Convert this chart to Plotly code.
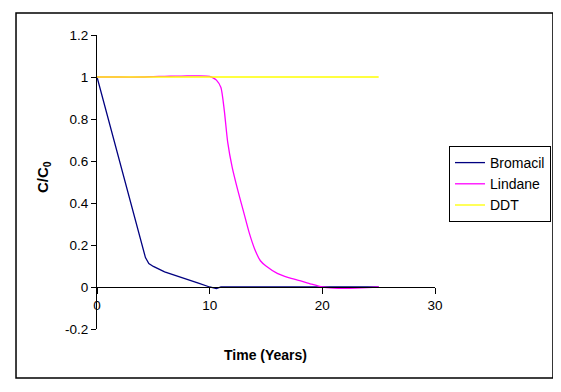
import plotly.graph_objects as go

# Data
bromacil_t = [0, 1, 2, 3, 4, 4.3, 4.6, 5, 6, 7, 8, 9, 10, 10.6, 11, 12, 14, 16, 18, 20, 22, 24, 25]
bromacil_c = [1.0, 0.8, 0.6, 0.4, 0.2, 0.14, 0.112, 0.098, 0.072, 0.053, 0.035, 0.018, 0.0, -0.008, 0.0, 0, 0, 0, 0, 0, 0, 0, 0]

lindane_t = [0, 2, 4, 5, 6, 7, 8, 9, 10, 10.3, 10.6, 11, 11.3, 11.6, 12, 12.5, 13, 13.5, 14, 14.5, 15,
             16, 17, 18, 19, 20, 21, 22, 23, 24, 25]
lindane_c = [1.0, 1.0, 1.0, 1.002, 1.003, 1.004, 1.005, 1.005, 1.003, 0.996, 0.985, 0.95, 0.84, 0.69, 0.57,
             0.46, 0.36, 0.26, 0.18, 0.125, 0.1, 0.065, 0.045, 0.03, 0.014, 0.0, -0.005, -0.006, -0.005, -0.003, 0.0]

ddt_t = [0, 5, 10, 15, 20, 25]
ddt_c = [1, 1, 1, 1, 1, 1]

x_ticks = [0, 10, 20, 30]
y_ticks = [-0.2, 0, 0.2, 0.4, 0.6, 0.8, 1.0, 1.2]
y_tick_text = ["-0.2", "0", "0.2", "0.4", "0.6", "0.8", "1", "1.2"]

FONT = "Liberation Sans, Arial, sans-serif"

fig = go.Figure()
fig.add_trace(go.Scatter(x=bromacil_t, y=bromacil_c, mode="lines", name="Bromacil",
                         line=dict(color="#000080", width=1.3)))
fig.add_trace(go.Scatter(x=lindane_t, y=lindane_c, mode="lines", name="Lindane",
                         line=dict(color="#FF00FF", width=1.3, shape="spline", smoothing=0.6)))
fig.add_trace(go.Scatter(x=ddt_t, y=ddt_c, mode="lines", name="DDT",
                         line=dict(color="#FFFF00", width=1.3)))

# page body has an 8px margin, so the figure is sized/offset to compensate
W, H = 553, 384
fig.update_layout(
    width=W, height=H,
    margin=dict(l=89, r=126, t=27, b=63),
    paper_bgcolor="white", plot_bgcolor="white",
    font=dict(family=FONT, size=13.5, color="black"),
    showlegend=True,
    legend=dict(xref="container", yref="container",
                x=(449 - 8) / W, y=1 - (146 - 8) / H, xanchor="left", yanchor="top",
                bordercolor="black", borderwidth=1, bgcolor="white",
                font=dict(family=FONT, size=14, color="black"),
                itemwidth=30, tracegroupgap=0),
    xaxis=dict(range=[0, 30], tickvals=x_ticks, showgrid=False, zeroline=False,
               showline=True, linecolor="black", linewidth=1,
               ticks="outside", ticklen=6, tickcolor="black",
               anchor="free", position=0.2 / 1.4, automargin=False,
               tickfont=dict(family=FONT, size=13.5)),
    yaxis=dict(range=[-0.2, 1.2], tickvals=y_ticks, ticktext=y_tick_text,
               showgrid=False, zeroline=False, automargin=False,
               showline=True, linecolor="black", linewidth=1,
               ticks="outside", ticklen=5, tickcolor="black",
               tickfont=dict(family=FONT, size=13.5)),
    shapes=[dict(type="rect", xref="paper", yref="paper",
                 x0=-0.2396, x1=1.349, y0=-0.1667, y1=1.0748,
                 line=dict(color="black", width=1.5), fillcolor="rgba(0,0,0,0)", layer="below")],
    annotations=[
        dict(text="<b>Time (Years)</b>", xref="paper", yref="paper",
             x=(265 - 97) / 338, y=(329 - 355) / 294, showarrow=False,
             font=dict(family=FONT, size=14), xanchor="center", yanchor="middle"),
        dict(text="<b>C/C<sub>0</sub></b>", xref="paper", yref="paper",
             x=(43 - 97) / 338, y=(329 - 177) / 294, showarrow=False, textangle=-90,
             font=dict(family=FONT, size=15), xanchor="center", yanchor="middle"),
    ],
)

fig.write_html("out.html")
